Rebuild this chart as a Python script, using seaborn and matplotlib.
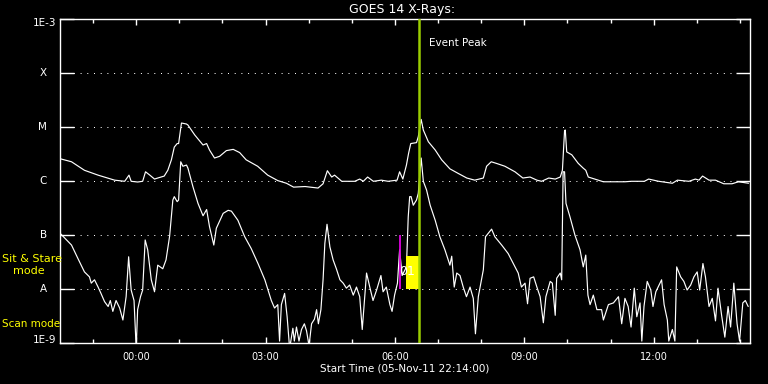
import numpy as np
import pandas as pd
import matplotlib
matplotlib.use("Agg")
import matplotlib.pyplot as plt
import seaborn as sns
from matplotlib.ticker import FixedLocator, NullLocator, NullFormatter

# ---------------- data (time = minutes after start 05-Nov-11 22:14:00) ----------------
start_label = "Start Time (05-Nov-11 22:14:00)"
start_minute_of_day = 22 * 60 + 14
span_minutes = 960

# GOES 1-8 A channel (W/m^2)
t_long = [1, 16, 34, 53, 76, 90, 96, 99, 108, 115,
          119, 125, 131.5, 136, 145, 150, 155, 159, 163, 165,
          169, 176, 178, 187.5, 199, 204, 208, 215, 222, 231.5,
          241, 250, 259, 275, 289, 303, 315, 325, 341, 359,
          366, 372, 378, 382, 392, 410, 417, 422, 428, 436,
          447, 456.5, 469, 472.5, 477, 482, 485, 488, 496, 498.5,
          502.5, 505.5, 512.5, 522, 531, 542.5, 554, 566, 577, 589,
          593.5, 600, 607, 619, 633, 644, 654, 663.5, 670, 680,
          689, 696, 699, 702, 703, 705, 712, 721, 728, 731.5,
          735, 744, 756, 786, 795, 813, 819, 833, 852, 859,
          875, 884, 889, 894, 903, 912, 923.5, 935, 944, 958]
f_long = [2.6e-6, 2.3e-6, 1.6e-6, 1.3e-6, 1.05e-6, 1.0e-6, 1.3e-6, 1.0e-6, 0.97e-6, 1.0e-6,
          1.5e-6, 1.3e-6, 1.1e-6, 1.15e-6, 1.25e-6, 1.6e-6, 2.5e-6, 4.3e-6, 5.0e-6, 5.0e-6,
          1.2e-5, 1.15e-5, 1.1e-5, 7.2e-6, 4.7e-6, 5.0e-6, 3.8e-6, 2.7e-6, 2.9e-6, 3.7e-6,
          3.9e-6, 3.4e-6, 2.5e-6, 1.9e-6, 1.3e-6, 1.03e-6, 0.92e-6, 0.78e-6, 0.8e-6, 0.75e-6,
          0.9e-6, 1.57e-6, 1.2e-6, 1.3e-6, 1.0e-6, 1.0e-6, 1.1e-6, 1.0e-6, 1.2e-6, 1.0e-6,
          1.05e-6, 1.0e-6, 1.05e-6, 1.5e-6, 1.1e-6, 2.0e-6, 3.3e-6, 5.0e-6, 5.2e-6, 6.7e-6,
          1.4e-5, 8.9e-6, 5.4e-6, 3.8e-6, 2.5e-6, 1.7e-6, 1.4e-6, 1.15e-6, 1.05e-6, 1.15e-6,
          1.9e-6, 2.3e-6, 2.15e-6, 1.9e-6, 1.5e-6, 1.15e-6, 1.2e-6, 1.05e-6, 1.0e-6, 1.15e-6,
          1.1e-6, 1.2e-6, 1.6e-6, 8.7e-6, 8.9e-6, 3.5e-6, 3.1e-6, 2.15e-6, 1.75e-6, 1.6e-6,
          1.2e-6, 1.1e-6, 0.98e-6, 0.98e-6, 1.0e-6, 1.0e-6, 1.1e-6, 1.0e-6, 0.92e-6, 1.05e-6,
          1.0e-6, 1.1e-6, 1.05e-6, 1.25e-6, 1.05e-6, 1.05e-6, 0.9e-6, 0.9e-6, 0.98e-6, 0.92e-6]

# GOES 0.5-4 A channel (W/m^2)
t_short = [1, 16, 25, 34, 41, 43.5, 48, 53, 57, 62,
           67, 70, 73.5, 78, 83, 87.5, 92, 95.5, 99, 103,
           106, 108, 112, 115, 118.5, 122, 127, 131.5, 136, 143,
           147.5, 152.5, 157, 159, 163, 165, 168, 171, 176, 178,
           185, 192, 199, 204, 208, 214, 217.5, 227, 234, 238.5,
           243, 247.5, 257, 266, 275.5, 285, 294, 298.5, 303, 305.5,
           308, 312.5, 316, 319.5, 324, 326, 329, 332.5, 336, 340,
           343, 346.5, 350, 354, 357, 359.5, 363, 366, 368.5, 371.5,
           375.5, 380, 384.5, 389.5, 394, 398.5, 403, 408, 412.5, 417,
           420.5, 423, 426.5, 431, 435.5, 440.5, 446.5, 449.5, 454, 459,
           462, 465.5, 469.5, 472.5, 476, 482, 484.5, 486.5, 488.5, 491.5,
           496, 498.5, 502.5, 505.5, 510, 515, 522, 528.5, 535.5, 542.5,
           545, 548.5, 552, 556.5, 561, 565.5, 570.5, 575, 578, 582,
           585.5, 589, 592, 600.5, 605, 614.5, 623.5, 633, 637.5, 642,
           647, 650.5, 654, 659, 663.5, 668, 672.5, 676, 682, 685,
           689, 691, 696, 698, 700, 702, 704, 709.5, 716.5, 723.5,
           728, 731.5, 734.5, 737.5, 742, 747, 753.5, 756, 763, 770,
           777, 781.5, 786, 790.5, 794.5, 799, 802.5, 807, 809.5, 812.5,
           817, 822, 825, 829, 833.5, 837, 840.5, 845, 847, 852,
           855.5, 858, 863.5, 868, 872.5, 877.5, 882, 886.5, 890, 894.5,
           898, 903, 907.5, 912, 915.5, 920.5, 925, 929.5, 933, 937.5,
           942, 945.5, 950, 953.5, 957.5]
f_short = [1.06e-7, 6.6e-8, 3.7e-8, 2.1e-8, 1.7e-8, 1.3e-8, 1.5e-8, 1.1e-8, 8.4e-9, 5.9e-9,
           4.8e-9, 6.2e-9, 3.9e-9, 6.2e-9, 4.5e-9, 2.7e-9, 7.3e-9, 4.0e-8, 9.7e-9, 6.2e-9,
           8e-10, 4.2e-9, 7.3e-9, 9.7e-9, 8.2e-8, 5.4e-8, 1.5e-8, 9e-9, 2.8e-8, 2.4e-8,
           3.5e-8, 9.6e-8, 4.5e-7, 5.2e-7, 4.2e-7, 4.5e-7, 2.3e-6, 1.9e-6, 2.0e-6, 1.75e-6,
           7.9e-7, 3.9e-7, 2.3e-7, 3.0e-7, 1.45e-7, 6.6e-8, 1.35e-7, 2.55e-7, 2.9e-7, 2.8e-7,
           2.3e-7, 1.9e-7, 9.4e-8, 5.7e-8, 3.0e-8, 1.5e-8, 6.2e-9, 4.5e-9, 5.2e-9, 1.1e-9,
           5.2e-9, 8.4e-9, 3.1e-9, 8e-10, 1.9e-9, 1.1e-9, 2.0e-9, 1.1e-9, 1.8e-9, 2.3e-9,
           1.7e-9, 9e-10, 2.3e-9, 2.8e-9, 4.2e-9, 2.3e-9, 4.2e-9, 1.5e-8, 7.1e-8, 1.6e-7,
           6.1e-8, 3.5e-8, 2.4e-8, 1.5e-8, 1.3e-8, 1.05e-8, 1.2e-8, 7.8e-9, 1.1e-8, 7.3e-9,
           1.8e-9, 4.8e-9, 2.0e-8, 1.1e-8, 6.2e-9, 9.7e-9, 1.8e-8, 9e-9, 1.1e-8, 5.2e-9,
           3.9e-9, 7.8e-9, 1.3e-8, 5.4e-8, 1.8e-8, 2.6e-8, 2.2e-7, 5.2e-7, 5.2e-7, 3.6e-7,
           4.5e-7, 6.0e-7, 2.7e-6, 1.0e-6, 6.9e-7, 3.6e-7, 1.9e-7, 9.4e-8, 5.4e-8, 2.8e-8,
           4.1e-8, 1.1e-8, 2.0e-8, 1.8e-8, 1.1e-8, 7.3e-9, 1.1e-8, 6.8e-9, 1.5e-9, 7.3e-9,
           1.3e-8, 2.3e-8, 9.4e-8, 1.3e-7, 9.4e-8, 6.6e-8, 4.6e-8, 2.6e-8, 2.0e-8, 1.1e-8,
           1.3e-8, 5.4e-9, 1.6e-8, 1.7e-8, 1.1e-8, 7.3e-9, 2.4e-9, 7.3e-9, 1.4e-8, 1.3e-8,
           3.3e-9, 1.6e-8, 2.0e-8, 1.5e-8, 1.5e-6, 1.5e-6, 3.9e-7, 2.2e-7, 1.0e-7, 5.4e-8,
           2.6e-8, 4.3e-8, 7.8e-9, 5.2e-9, 7.8e-9, 4.2e-9, 4.2e-9, 2.7e-9, 5.2e-9, 5.6e-9,
           7.3e-9, 2.3e-9, 6.8e-9, 4.8e-9, 2.0e-9, 1.05e-8, 3.1e-9, 5.6e-9, 1.1e-9, 4.8e-9,
           1.4e-8, 9.7e-9, 4.8e-9, 9e-9, 1.2e-8, 1.5e-8, 5.2e-9, 2.7e-9, 1.1e-9, 1.8e-9,
           1.1e-9, 2.6e-8, 1.7e-8, 1.4e-8, 9.7e-9, 1.2e-8, 1.7e-8, 2.1e-8, 9.7e-9, 3.0e-8,
           1.7e-8, 4.8e-9, 6.8e-9, 2.6e-9, 1.05e-8, 3.3e-9, 1.3e-9, 4.8e-9, 2.0e-9, 1.3e-8,
           2.3e-9, 1.1e-9, 5.6e-9, 6.2e-9, 4.8e-9]

# axis labels
tick_labels = ["00:00", "03:00", "06:00", "09:00", "12:00"]
decade_values = [1e-9, 1e-8, 1e-7, 1e-6, 1e-5, 1e-4, 1e-3]
decade_labels = ["1E-9", "A", "B", "C", "M", "X", "1E-3"]

# event / mode markers (minutes after start)
event_peak_min = 499
event_label = "Event Peak"
sit_stare_marker_min = 473
sit_stare_box = (481.5, 499)
sit_stare_box_level = 4.1e-8
sit_stare_id = "01"

# ---------------- plot ----------------
sns.set_theme(style="ticks")
plt.rcParams['font.family'] = ['DejaVu Sans']

fig = plt.figure(figsize=(7.68, 3.84), dpi=100, facecolor='black')
ax = fig.add_axes([60 / 768, (384 - 343.3) / 384, 690 / 768, 324 / 384])
ax.set_facecolor('black')

df = pd.concat([
    pd.DataFrame({'minutes': t_long, 'flux': f_long, 'channel': 'long'}),
    pd.DataFrame({'minutes': t_short, 'flux': f_short, 'channel': 'short'}),
], ignore_index=True)

sns.lineplot(data=df, x='minutes', y='flux', hue='channel',
             palette={'long': 'white', 'short': 'white'},
             estimator=None, sort=False, legend=False, linewidth=0.85,
             ax=ax, zorder=2)

ax.set_yscale('log')
ax.set_ylim(1e-9, 1e-3)
ax.set_xlim(0, span_minutes)
ax.set_xlabel('')
ax.set_ylabel('')

# x ticks
first_hour_offset = 24 * 60 - start_minute_of_day  # minutes from start to 00:00
major_pos = [first_hour_offset + int(lbl[:2]) * 60 for lbl in tick_labels]
minor_pos = list(range(60 - 14, span_minutes, 60))
ax.xaxis.set_major_locator(FixedLocator(major_pos))
ax.set_xticklabels(tick_labels)
ax.xaxis.set_minor_locator(FixedLocator(minor_pos))
ax.tick_params(axis='x', which='major', direction='in', length=4.5, width=1,
               color='white', labelcolor='white', labelsize=7, top=True, bottom=True, pad=6)
ax.tick_params(axis='x', which='minor', direction='in', length=2.6, width=1,
               color='white', top=True, bottom=True)

# y ticks
ax.yaxis.set_major_locator(FixedLocator(decade_values))
ax.yaxis.set_minor_locator(NullLocator())
ax.yaxis.set_major_formatter(NullFormatter())
ax.tick_params(axis='y', which='major', direction='in', length=10, width=1,
               color='white', left=True, right=True)
ax.grid(True, axis='y', which='major', color='white', linestyle=(0, (1, 5.7)), linewidth=0.72)
ax.set_axisbelow(True)

for sp in ax.spines.values():
    sp.set_color('white')
    sp.set_linewidth(1.0)
    sp.set_visible(True)

ytr = ax.get_yaxis_transform()
for val, lbl in zip(decade_values, decade_labels):
    if lbl.startswith('1E'):
        yv = val * (0.85 if val > 1e-4 else 1.15)
        ax.text(-0.005, yv, lbl, transform=ytr, ha='right', va='center',
                color='white', fontsize=7.5, clip_on=False)
    else:
        ax.text(-0.019, val, lbl, transform=ytr, ha='right', va='center',
                color='white', fontsize=7.5, clip_on=False)

# event peak
ax.axvline(event_peak_min, color='#9ACD00', linewidth=1.8, zorder=4)
ax.text(event_peak_min + 15, 3.6e-4, event_label, color='white', fontsize=7.5,
        ha='left', va='center', zorder=5)

# sit & stare markers
ax.vlines(sit_stare_marker_min, 1e-8, 1e-7, color='#E000E0', linewidth=1.3, zorder=3)
ax.fill_between(list(sit_stare_box), 1e-8, sit_stare_box_level, color='#FFFF00',
                linewidth=0, zorder=3)
ax.text(483, 2.1e-8, sit_stare_id, color='white', fontsize=9, ha='center',
        va='center', zorder=5)

# titles / labels
fig.text(402 / 768, 1 - 10 / 384, "GOES 14 X-Rays:", color='white', fontsize=9,
         ha='center', va='center')
fig.text(405 / 768, 1 - 368.5 / 384, start_label, color='white', fontsize=7.5,
         ha='center', va='center')

# left yellow mode labels
fig.text(2 / 768, 1 - 259 / 384, "Sit & Stare", color='#FFFF00', fontsize=8,
         ha='left', va='center')
fig.text(12.5 / 768, 1 - 271.5 / 384, "mode", color='#FFFF00', fontsize=8,
         ha='left', va='center')
fig.text(2 / 768, 1 - 324 / 384, "Scan mode", color='#FFFF00', fontsize=7.5,
         ha='left', va='center')

fig.savefig('out.png', dpi=100, facecolor='black')
